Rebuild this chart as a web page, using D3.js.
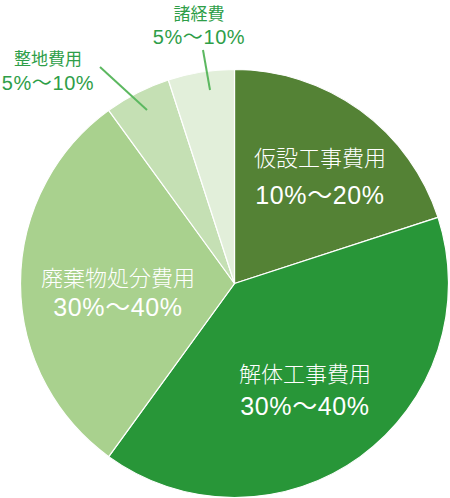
<!DOCTYPE html>
<html><head><meta charset="utf-8">
<script src="https://cdn.jsdelivr.net/npm/d3@7"></script>
<style>html,body{margin:0;padding:0;background:#fff;}svg{display:block;}</style>
</head><body>
<svg id="chart" width="450" height="498"></svg>
<script>
const categories = ["仮設工事費用", "解体工事費用", "廃棄物処分費用", "整地費用", "諸経費"];
const values = [20, 40, 30, 5, 5];
const rangeLabels = ["10%～20%", "30%～40%", "30%～40%", "5%～10%", "5%～10%"];
const colors = ["#548235", "#289638", "#a9d18e", "#c5e0b4", "#e2efda"];

const svg = d3.select("#chart");
const cx = 234.5, cy = 283.5, r = 214;
const font = "'Noto Sans CJK JP', 'Noto Sans', sans-serif";
const numFont = "'Liberation Sans', 'Noto Sans CJK JP', sans-serif";

const pie = d3.pie().sort(null).value(d => d)(values);
const arc = d3.arc().innerRadius(0).outerRadius(r);
const g = svg.append("g").attr("transform", `translate(${cx},${cy})`);
g.selectAll("path").data(pie).join("path")
  .attr("d", arc)
  .attr("fill", (d, i) => colors[i])
  .attr("stroke", "#fff").attr("stroke-width", 1.2);

const inside = [
  {i: 0, x: 320, y1: 166, y2: 204},
  {i: 1, x: 305, y1: 382, y2: 415},
  {i: 2, x: 118, y1: 286, y2: 316}
];
inside.forEach(o => {
  svg.append("text").attr("x", o.x).attr("y", o.y1).attr("text-anchor", "middle")
    .attr("font-family", font).attr("font-size", 22).attr("font-weight", 300)
    .attr("fill", "#fff").text(categories[o.i]);
  svg.append("text").attr("x", o.x).attr("y", o.y2).attr("text-anchor", "middle")
    .attr("font-family", numFont).attr("font-size", 25).attr("font-weight", 400)
    .attr("letter-spacing", 0.6)
    .attr("fill", "#fff").text(rangeLabels[o.i]);
});

const outside = [
  {i: 4, x: 199, y1: 20, y2: 44, lx1: 203, ly1: 50, lx2: 210, ly2: 90},
  {i: 3, x: 48, y1: 65, y2: 90, lx1: 100, ly1: 67, lx2: 147, ly2: 110}
];
outside.forEach(o => {
  svg.append("line").attr("x1", o.lx1).attr("y1", o.ly1).attr("x2", o.lx2).attr("y2", o.ly2)
    .attr("stroke", "#5cb860").attr("stroke-width", 2);
  svg.append("text").attr("x", o.x).attr("y", o.y1).attr("text-anchor", "middle")
    .attr("font-family", font).attr("font-size", 17).attr("font-weight", 400)
    .attr("fill", "#2e9e48").text(categories[o.i]);
  svg.append("text").attr("x", o.x).attr("y", o.y2).attr("text-anchor", "middle")
    .attr("font-family", numFont).attr("font-size", 20).attr("font-weight", 400)
    .attr("letter-spacing", 0.6)
    .attr("fill", "#2e9e48").text(rangeLabels[o.i]);
});
</script>
</body></html>
